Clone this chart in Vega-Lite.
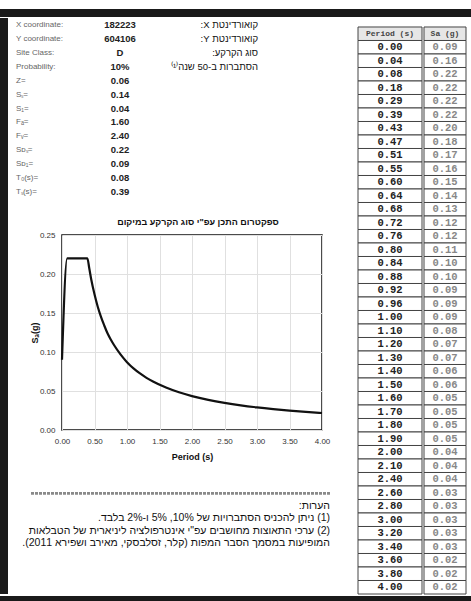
{
  "$schema": "https://vega.github.io/schema/vega-lite/v6.json",
  "padding": {"left": 0, "top": 7, "right": 0, "bottom": 0},
  "background": "white",
  "config": {
    "view": {"stroke": null},
    "font": "Liberation Sans",
    "concat": {"spacing": 0}
  },
  "datasets": {
    "info": [
      {"label": "X coordinate:", "value": "182223", "heb": "\u202Bקואורדינטת X:\u202C"},
      {"label": "Y coordinate:", "value": "604106", "heb": "\u202Bקואורדינטת Y:\u202C"},
      {"label": "Site Class:", "value": "D", "heb": "\u202Bסוג הקרקע:\u202C"},
      {"label": "Probability:", "value": "10%", "heb": "\u202Bהסתברות ב-50 שנה⁽¹⁾\u202C"},
      {"label": "Z=", "value": "0.06", "heb": ""},
      {"label": "Sₛ=", "value": "0.14", "heb": ""},
      {"label": "S₁=", "value": "0.04", "heb": ""},
      {"label": "Fₐ=", "value": "1.60", "heb": ""},
      {"label": "Fᵥ=", "value": "2.40", "heb": ""},
      {"label": "Sᴅₛ=", "value": "0.22", "heb": ""},
      {"label": "Sᴅ₁=", "value": "0.09", "heb": ""},
      {"label": "T₀(s)=", "value": "0.08", "heb": ""},
      {"label": "Tₛ(s)=", "value": "0.39", "heb": ""}
    ],
    "curve": [
      {"T": 0, "Sa": 0.09},
      {"T": 0.08, "Sa": 0.22},
      {"T": 0.39, "Sa": 0.22},
      {"T": 0.42, "Sa": 0.207},
      {"T": 0.45, "Sa": 0.193},
      {"T": 0.5, "Sa": 0.174},
      {"T": 0.55, "Sa": 0.158},
      {"T": 0.6, "Sa": 0.145},
      {"T": 0.65, "Sa": 0.134},
      {"T": 0.7, "Sa": 0.124},
      {"T": 0.75, "Sa": 0.116},
      {"T": 0.8, "Sa": 0.109},
      {"T": 0.9, "Sa": 0.097},
      {"T": 1.0, "Sa": 0.087},
      {"T": 1.1, "Sa": 0.079},
      {"T": 1.2, "Sa": 0.0725},
      {"T": 1.3, "Sa": 0.0669},
      {"T": 1.4, "Sa": 0.0621},
      {"T": 1.6, "Sa": 0.0544},
      {"T": 1.8, "Sa": 0.0483},
      {"T": 2.0, "Sa": 0.0435},
      {"T": 2.25, "Sa": 0.0387},
      {"T": 2.5, "Sa": 0.0348},
      {"T": 2.75, "Sa": 0.0316},
      {"T": 3.0, "Sa": 0.029},
      {"T": 3.25, "Sa": 0.0268},
      {"T": 3.5, "Sa": 0.0249},
      {"T": 3.75, "Sa": 0.0232},
      {"T": 4.0, "Sa": 0.0218}
    ],
    "notes": [
      {"k": "sep", "t": ""},
      {"k": "h", "t": "\u202Bהערות:\u202C"},
      {"k": "1", "t": "\u202B(1) ניתן להכניס הסתברויות של 10%, 5% ו-2% בלבד.\u202C"},
      {"k": "2", "t": "\u202B(2) ערכי התאוצות מחושבים עפ\"י אינטרפולציה ליניארית של הטבלאות\u202C"},
      {"k": "3", "t": "\u202Bהמופיעות במסמך הסבר המפות (קלר, זסלבסקי, מאירב ושפירא 2011).\u202C"}
    ],
    "tbl": [
      {"period": "Period (s)", "sa": "Sa (g)", "hdr": true},
      {"period": "0.00", "sa": "0.09"},
      {"period": "0.04", "sa": "0.16"},
      {"period": "0.08", "sa": "0.22"},
      {"period": "0.18", "sa": "0.22"},
      {"period": "0.29", "sa": "0.22"},
      {"period": "0.39", "sa": "0.22"},
      {"period": "0.43", "sa": "0.20"},
      {"period": "0.47", "sa": "0.18"},
      {"period": "0.51", "sa": "0.17"},
      {"period": "0.55", "sa": "0.16"},
      {"period": "0.60", "sa": "0.15"},
      {"period": "0.64", "sa": "0.14"},
      {"period": "0.68", "sa": "0.13"},
      {"period": "0.72", "sa": "0.12"},
      {"period": "0.76", "sa": "0.12"},
      {"period": "0.80", "sa": "0.11"},
      {"period": "0.84", "sa": "0.10"},
      {"period": "0.88", "sa": "0.10"},
      {"period": "0.92", "sa": "0.09"},
      {"period": "0.96", "sa": "0.09"},
      {"period": "1.00", "sa": "0.09"},
      {"period": "1.10", "sa": "0.08"},
      {"period": "1.20", "sa": "0.07"},
      {"period": "1.30", "sa": "0.07"},
      {"period": "1.40", "sa": "0.06"},
      {"period": "1.50", "sa": "0.06"},
      {"period": "1.60", "sa": "0.05"},
      {"period": "1.70", "sa": "0.05"},
      {"period": "1.80", "sa": "0.05"},
      {"period": "1.90", "sa": "0.05"},
      {"period": "2.00", "sa": "0.04"},
      {"period": "2.10", "sa": "0.04"},
      {"period": "2.40", "sa": "0.04"},
      {"period": "2.60", "sa": "0.03"},
      {"period": "2.80", "sa": "0.03"},
      {"period": "3.00", "sa": "0.03"},
      {"period": "3.20", "sa": "0.03"},
      {"period": "3.40", "sa": "0.03"},
      {"period": "3.60", "sa": "0.02"},
      {"period": "3.80", "sa": "0.02"},
      {"period": "4.00", "sa": "0.02"}
    ],
    "blank": [{}]
  },
  "spacing": 0,
  "vconcat": [
    {"width": 471, "height": 8, "view": {"fill": "#1a1a1a", "stroke": null}, "data": {"name": "blank"}, "mark": {"type": "text", "text": ""}},
    {
      "spacing": 0,
      "hconcat": [
        {"width": 8, "height": 576, "view": {"fill": "#1a1a1a", "stroke": null}, "data": {"name": "blank"}, "mark": {"type": "text", "text": ""}},
        {
          "spacing": 0,
          "vconcat": [
            {
              "spacing": 0,
              "bounds": "flush",
              "hconcat": [
                {
                  "width": 16, "height": 181,
                  "data": {"name": "info"},
                  "mark": {"type": "text", "align": "left", "fontSize": 8, "color": "#666"},
                  "encoding": {
                    "y": {"field": "label", "type": "ordinal", "sort": null, "axis": null},
                    "text": {"field": "label"}
                  }
                },
                {
                  "width": 192, "height": 181,
                  "data": {"name": "info"},
                  "mark": {"type": "text", "align": "center", "fontSize": 9.5, "fontWeight": "bold", "color": "#222"},
                  "encoding": {
                    "y": {"field": "label", "type": "ordinal", "sort": null, "axis": null},
                    "text": {"field": "value"}
                  }
                },
                {
                  "width": 84, "height": 181,
                  "data": {"name": "info"},
                  "mark": {"type": "text", "align": "right", "fontSize": 9.5, "color": "#111"},
                  "encoding": {
                    "y": {"field": "label", "type": "ordinal", "sort": null, "axis": null},
                    "text": {"field": "heb"}
                  }
                }
              ]
            },
            {"width": 322, "height": 18, "data": {"name": "blank"}, "mark": {"type": "text", "text": ""}},
            {
              "spacing": 0,
              "bounds": "flush",
              "hconcat": [
                {"width": 54, "height": 195, "data": {"name": "blank"}, "mark": {"type": "text", "text": ""}},
                {
                  "width": 260, "height": 195,
                  "view": {"stroke": "#111", "strokeWidth": 1.5},
                  "title": {"text": "\u202Bספקטרום התכן עפ\"י סוג הקרקע במיקום\u202C", "fontSize": 9, "fontWeight": "bold", "offset": 4, "dx": 6, "color": "#111", "anchor": "middle"},
                  "data": {"name": "curve"},
                  "mark": {"type": "line", "color": "#111", "strokeWidth": 2.2, "interpolate": "monotone"},
                  "encoding": {
                    "x": {
                      "field": "T", "type": "quantitative",
                      "scale": {"domain": [0, 4], "nice": false},
                      "axis": {"values": [0, 0.5, 1, 1.5, 2, 2.5, 3, 3.5, 4], "format": ".2f", "title": "Period (s)", "titleFontSize": 9, "titleFontWeight": "bold", "titleColor": "#111", "titlePadding": 7, "labelFontSize": 8, "labelColor": "#333", "labelPadding": 7, "labelFlush": false, "labelOverlap": false, "domain": false, "ticks": false, "tickSize": 0, "grid": true, "gridColor": "#e0e0e0"}
                    },
                    "y": {
                      "field": "Sa", "type": "quantitative",
                      "scale": {"domain": [0, 0.25], "nice": false},
                      "axis": {"values": [0, 0.05, 0.1, 0.15, 0.2, 0.25], "format": ".2f", "title": "Sₐ(g)", "titleFontSize": 9, "titleFontWeight": "bold", "titleColor": "#111", "titlePadding": 0, "labelFontSize": 8, "labelColor": "#333", "labelPadding": 7, "labelFlush": false, "domain": false, "ticks": false, "tickSize": 0, "grid": true, "gridColor": "#e0e0e0"}
                    }
                  }
                }
              ]
            },
            {"width": 322, "height": 25, "data": {"name": "blank"}, "mark": {"type": "text", "text": ""}},
            {
              "spacing": 0,
              "bounds": "flush",
              "hconcat": [
                {"width": 22, "height": 62.5, "data": {"name": "blank"}, "mark": {"type": "text", "text": ""}},
                {
                  "width": 300, "height": 62.5,
                  "data": {"name": "notes"},
                  "layer": [
                    {
                      "mark": {"type": "rule", "color": "#8a8a8a", "strokeWidth": 2, "strokeDash": [3, 1]},
                      "encoding": {"y": {"datum": "sep", "type": "ordinal", "sort": null, "axis": null}}
                    },
                    {
                      "mark": {"type": "text", "align": "right", "fontSize": 10.5, "color": "#111"},
                      "encoding": {
                        "x": {"value": "width"},
                        "y": {"field": "k", "type": "ordinal", "sort": null, "axis": null},
                        "text": {"field": "t"}
                      }
                    }
                  ]
                }
              ]
            }
          ]
        },
        {"width": 26, "height": 576, "data": {"name": "blank"}, "mark": {"type": "text", "text": ""}},
        {
          "width": 64, "height": 576,
          "data": {"name": "tbl"},
          "encoding": {
            "y": {"field": "period", "type": "ordinal", "sort": null, "axis": null, "scale": {"type": "band", "paddingInner": 0, "paddingOuter": 0.3333, "align": 1}}
          },
          "layer": [
            {
              "mark": {"type": "rect", "stroke": "#444", "strokeWidth": 1},
              "encoding": {"color": {"condition": {"test": "datum.hdr", "value": "#e6e6e6"}, "value": "#ffffff"}}
            },
            {
              "mark": {"type": "text", "font": "Liberation Mono", "fontWeight": "bold"},
              "encoding": {
                "text": {"field": "period"},
                "size": {"condition": {"test": "datum.hdr", "value": 8}, "value": 10.5},
                "color": {"condition": {"test": "datum.hdr", "value": "#444"}, "value": "#222"}
              }
            }
          ]
        },
        {
          "width": 42, "height": 576,
          "data": {"name": "tbl"},
          "encoding": {
            "y": {"field": "period", "type": "ordinal", "sort": null, "axis": null, "scale": {"type": "band", "paddingInner": 0, "paddingOuter": 0.3333, "align": 1}}
          },
          "layer": [
            {
              "mark": {"type": "rect", "stroke": "#444", "strokeWidth": 1},
              "encoding": {"color": {"condition": {"test": "datum.hdr", "value": "#e6e6e6"}, "value": "#ffffff"}}
            },
            {
              "mark": {"type": "text", "font": "Liberation Mono", "fontWeight": "bold"},
              "encoding": {
                "text": {"field": "sa"},
                "size": {"condition": {"test": "datum.hdr", "value": 8}, "value": 10.5},
                "color": {"condition": {"test": "datum.hdr", "value": "#444"}, "value": "#888"}
              }
            }
          ]
        },
        {"width": 9, "height": 576, "data": {"name": "blank"}, "mark": {"type": "text", "text": ""}}
      ]
    },
    {"width": 471, "height": 10, "view": {"fill": "#1a1a1a", "stroke": null}, "data": {"name": "blank"}, "mark": {"type": "text", "text": ""}}
  ]
}
